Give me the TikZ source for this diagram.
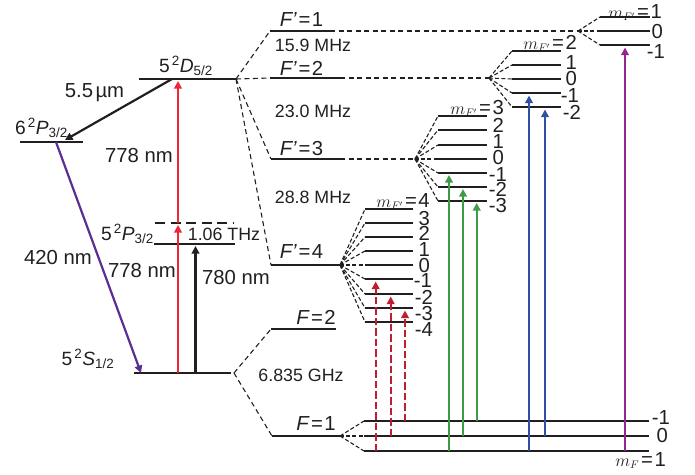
\documentclass[tikz,border=0pt]{standalone}
\usepackage{fontspec}
\setmainfont{Liberation Sans}
\usetikzlibrary{arrows.meta}
\definecolor{ink}{HTML}{231F20}
\definecolor{vio}{HTML}{5B2E91}
\definecolor{rdd}{HTML}{EE2737}
\definecolor{drd}{HTML}{BE1E2D}
\definecolor{grn}{HTML}{3F9C46}
\definecolor{blu}{HTML}{2F50A3}
\definecolor{mag}{HTML}{92278F}

\begin{document}
\begin{tikzpicture}[
  x=1pt, y=-1pt,
  font=\fontsize{20.3}{23}\selectfont,
  >={Triangle[length=7.5pt,width=7.5pt]},
  lev/.style={line width=1.5pt, ink},
  virt/.style={line width=1.3pt, ink, dash pattern=on 10pt off 5.5pt},
  link/.style={line width=1.1pt, ink, dash pattern=on 5pt off 3.5pt},
  fan/.style={line width=1.1pt, ink, dash pattern=on 4pt off 2.2pt},
  beam/.style={->, line width=2.2pt},
  dbeam/.style={->, line width=2.3pt, dash pattern=on 7.5pt off 3pt},
  lab/.style={inner sep=0pt, text=ink},
  term/.style={lab, font=\fontsize{19.2}{22}\selectfont},
  mlab/.style={lab, anchor=base east, yshift=-7.2pt},
  small/.style={lab, font=\fontsize{17.8}{20}\selectfont}
]
\useasboundingbox (0,0) rectangle (695,474);

% ---------------------------------------------------------------- fine structure levels
\coordinate (d52a) at (139,79);    \coordinate (d52b) at (236,79);
\coordinate (p632a) at (20,142);   \coordinate (p632b) at (83,142);
\coordinate (p32a) at (154,244);   \coordinate (p32b) at (235,244);
\coordinate (vira) at (155,223);   \coordinate (virb) at (234,223);
\coordinate (s12a) at (134,373);   \coordinate (s12b) at (231,373);
\draw[lev] (d52a) -- (d52b);
\draw[lev] (p632a) -- (p632b);
\draw[lev] (p32a) -- (p32b);
\draw[virt] (vira) -- (virb);
\draw[lev] (s12a) -- (s12b);
\node[term] (d52t) at (186,66) {5\kern2pt\textsuperscript{2}\textit{D}\textsubscript{5/2}};
\node[term] (p632t) at (41.5,128) {6\kern2pt\textsuperscript{2}\textit{P}\textsubscript{3/2}};
\node[term, anchor=east] (p32t) at (154,234) {5\kern2pt\textsuperscript{2}\textit{P}\textsubscript{3/2}};
\node[term] (s12t) at (88,359) {5\kern2pt\textsuperscript{2}\textit{S}\textsubscript{1/2}};
\node[small] (thz) at (224,234) {1.06 THz};

% ---------------------------------------------------------------- hyperfine levels
\coordinate (dfan) at (236,79);    \coordinate (sfan) at (234,373);
\coordinate (fp1a) at (270,31);    \coordinate (fp1b) at (330,31);   \coordinate (fp1o) at (578,31);
\coordinate (fp2a) at (270,78);    \coordinate (fp2b) at (340,78);   \coordinate (fp2o) at (489,78);
\coordinate (fp3a) at (271,159);   \coordinate (fp3b) at (340,159);  \coordinate (fp3o) at (415,159);
\coordinate (fp4a) at (271,265);   \coordinate (fp4o) at (340,265);
\coordinate (f2a) at (271,329);    \coordinate (f2b) at (336,329);
\coordinate (f1a) at (272,436);    \coordinate (f1o) at (340,436);
\draw[lev] (fp1a) -- (fp1b);
\draw[lev] (fp2a) -- (fp2b);
\draw[lev] (fp3a) -- (fp3b);
\draw[lev] (fp4a) -- (fp4o);
\draw[lev] (f2a) -- (f2b);
\draw[lev] (f1a) -- (f1o);
\draw[link] (fp1b) -- (fp1o);
\draw[link] (fp2b) -- (fp2o);
\draw[link] (fp3b) -- (fp3o);
\draw[link] (dfan) -- (fp1a);
\draw[link] (dfan) -- (fp2a);
\draw[link] (dfan) -- (fp3a);
\draw[link] (dfan) -- (fp4a);
\draw[link] (sfan) -- (f2a);
\draw[link] (sfan) -- (f1a);
\node[lab] (fp1t) at (301.5,20) {\textit{F'}\kern1.5pt=\kern1.5pt1};
\node[lab] (fp2t) at (301.5,68) {\textit{F'}\kern1.5pt=\kern1.5pt2};
\node[lab] (fp3t) at (301.5,149) {\textit{F'}\kern1.5pt=\kern1.5pt3};
\node[lab] (fp4t) at (301.5,252) {\textit{F'}\kern1.5pt=\kern1.5pt4};
\node[lab] (f2t) at (316,317) {\textit{F}\kern1.5pt=\kern1.5pt2};
\node[lab] (f1t) at (316,424) {\textit{F}\kern1.5pt=\kern1.5pt1};
\node[small] (mhza) at (313,45) {15.9 MHz};
\node[small] (mhzb) at (313,111) {23.0 MHz};
\node[small] (mhzc) at (313,197) {28.8 MHz};
\node[small] (ghz) at (301,375) {6.835 GHz};

% ---------------------------------------------------------------- magnetic sublevels
\newcommand{\mtop}[2]{{\fontsize{16}{18}\selectfont$m_{#1}$}\kern2pt=\kern1.5pt#2}
\foreach \m/\y/\lx/\ly/\t in {1/17/662/11/{\mtop{F'}{1}}, 0/31/663/31/0, -1/45/665/51/-1}{
  \coordinate (ma\m) at (600,\y);
  \coordinate (mb\m) at (650,\y);
  \draw[fan] (fp1o) -- (ma\m);
  \node[mlab] (ml\m) at (\lx,\ly) {\t};
  \draw[lev] (ma\m) -- (mb\m);
}
\foreach \m/\y/\lx/\ly/\t in {2/51/577/42/{\mtop{F'}{2}}, 1/65/577/62/1, 0/79/577/78/0, -1/93/579/95/-1, -2/107/581/112/-2}{
  \coordinate (na\m) at (512,\y);
  \coordinate (nb\m) at (561,\y);
  \draw[fan] (fp2o) -- (na\m);
  \node[mlab] (nl\m) at (\lx,\ly) {\t};
  \draw[lev] (na\m) -- (nb\m);
}
\foreach \m/\y/\lx/\ly/\t in {3/116/504/107/{\mtop{F'}{3}}, 2/130/504/125/2, 1/145/504/141/1, 0/159/504/157/0, -1/173/507/174/-1, -2/187/507/189/-2, -3/201/507/205/-3}{
  \coordinate (oa\m) at (438,\y);
  \coordinate (ob\m) at (487,\y);
  \draw[fan] (fp3o) -- (oa\m);
  \node[mlab] (ol\m) at (\lx,\ly) {\t};
  \draw[lev] (oa\m) -- (ob\m);
}
\foreach \m/\y/\lx/\ly/\t in {4/209/430/200/{\mtop{F'}{4}}, 3/223/430/218/3, 2/237/430/233/2, 1/251/430/249/1, 0/265/430/265/0, -1/279/432/280/-1, -2/294/433/297/-2, -3/308/433/313/-3, -4/322/433/329/-4}{
  \coordinate (pa\m) at (365,\y);
  \coordinate (pb\m) at (413,\y);
  \draw[fan] (fp4o) -- (pa\m);
  \node[mlab] (pl\m) at (\lx,\ly) {\t};
  \draw[lev] (pa\m) -- (pb\m);
}
\foreach \m/\y/\lx/\ly/\t in {-1/421/670/417/-1, 0/436/668/435/0, 1/451/666/459/{\mtop{F}{1}}}{
  \coordinate (ga\m) at (364,\y);
  \coordinate (gb\m) at (649,\y);
  \draw[fan] (f1o) -- (ga\m);
  \node[mlab] (gl\m) at (\lx,\ly) {\t};
  \draw[lev] (ga\m) -- (gb\m);
}

% ---------------------------------------------------------------- excitation beams
\coordinate (decf) at (172,79);    \coordinate (dect) at (65,140);
\coordinate (vcf) at (56,142);     \coordinate (vct) at (141,373);
\coordinate (cr) at (178,0);       \coordinate (ck) at (195.5,0);
\draw[beam, ink] (decf) -- (dect);
\draw[beam, vio] (vcf) -- (vct);
\draw[beam, rdd] (cr |- s12a) -- ([yshift=-2pt]cr |- vira);
\draw[beam, rdd] (cr |- vira) -- ([yshift=-2pt]cr |- d52a);
\draw[beam, ink] (ck |- s12a) -- ([yshift=-2pt]ck |- p32a);
\node[lab] (irl) at (94.5,93) {5.5\kern2.5ptµm};
\node[lab] (uvl) at (139,156) {778 nm};
\node[lab] (lvl) at (142,271) {778 nm};
\node[lab] (bkl) at (236,278) {780 nm};
\node[lab] (vil) at (58,258) {420 nm};

% ---------------------------------------------------------------- sublevel beams
\coordinate (ra) at (375.7,0);     \coordinate (rb) at (390.7,0);    \coordinate (rc) at (405,0);
\coordinate (la) at (449,0);       \coordinate (lb) at (463,0);      \coordinate (lc) at (476.7,0);
\coordinate (ba) at (529,0);       \coordinate (bb) at (545,0);      \coordinate (ua) at (625,0);
\draw[dbeam, drd, shorten >=2.5pt] (ra |- ga1) -- (ra |- pa-1);
\draw[dbeam, drd, shorten >=2.5pt] (rb |- ga0) -- (rb |- pa-2);
\draw[dbeam, drd, shorten >=2.5pt] (rc |- ga-1) -- (rc |- pa-3);
\draw[beam, grn, shorten >=2pt] (la |- ga1) -- (la |- oa-1);
\draw[beam, grn, shorten >=2pt] (lb |- ga0) -- (lb |- oa-2);
\draw[beam, grn, shorten >=2pt] (lc |- ga-1) -- (lc |- oa-3);
\draw[beam, blu, shorten >=2.5pt] (ba |- ga1) -- (ba |- na-1);
\draw[beam, blu, shorten >=2.5pt] (bb |- ga0) -- (bb |- na-2);
\draw[beam, mag, shorten >=2.5pt] (ua |- ga1) -- (ua |- ma-1);
\end{tikzpicture}
\end{document}
